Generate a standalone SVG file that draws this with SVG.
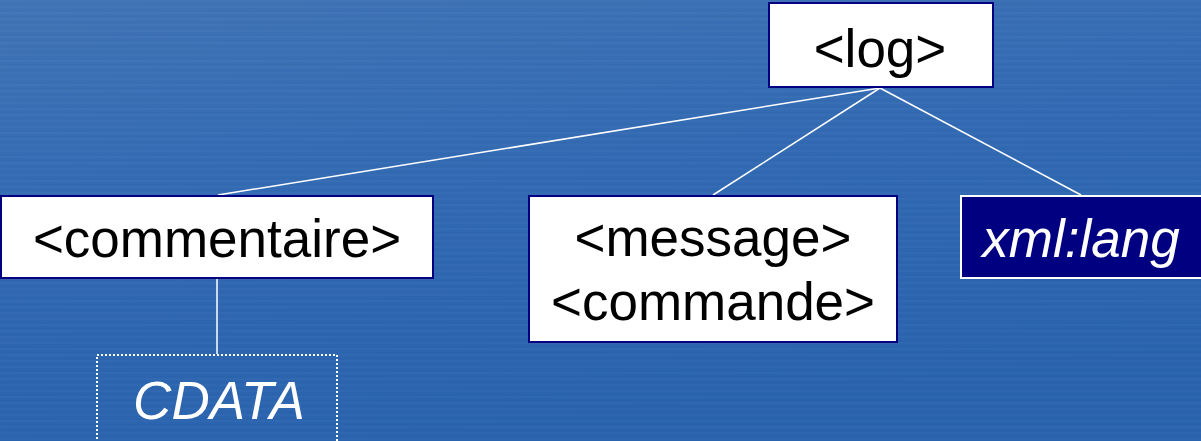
<svg xmlns="http://www.w3.org/2000/svg" width="1201" height="441" viewBox="0 0 1201 441">
<defs>
<linearGradient id="bg" x1="0" y1="0" x2="0.3" y2="1">
<stop offset="0" stop-color="#3f74b6"/>
<stop offset="0.5" stop-color="#3169b2"/>
<stop offset="1" stop-color="#2a63ae"/>
</linearGradient>
<pattern id="streaks" width="1201" height="6" patternUnits="userSpaceOnUse">
<rect x="0" y="0" width="1201" height="2" fill="#ffffff" opacity="0.02"/>
<rect x="0" y="4" width="1201" height="1" fill="#000000" opacity="0.02"/>
</pattern>
<style>
.box{fill:#ffffff;stroke:#000080;stroke-width:2}
.dark{fill:#000080;stroke:#ffffff;stroke-width:2}
.dot{fill:none;stroke:#ffffff;stroke-width:2;stroke-dasharray:2 2}
.t{font-family:"Liberation Sans",Arial,sans-serif;font-size:53px;fill:#000000;text-anchor:middle}
.ti{font-family:"Liberation Sans",Arial,sans-serif;font-size:53px;fill:#ffffff;font-style:italic;text-anchor:middle}
.c{stroke:#ffffff;stroke-width:1.5;fill:none}
</style>
</defs>
<rect width="1201" height="441" fill="url(#bg)"/>
<rect width="1201" height="441" fill="url(#streaks)"/>
<g id="connectors">
<line class="c" x1="880" y1="88" x2="218" y2="195"/>
<line class="c" x1="880" y1="88" x2="713" y2="195"/>
<line class="c" x1="880" y1="88" x2="1081" y2="195"/>
<line class="c" x1="217" y1="278" x2="217" y2="354"/>
</g>
<g id="log">
<rect class="box" x="769" y="3" width="224" height="84"/>
<text class="t" x="880" y="67">&lt;log&gt;</text>
</g>
<g id="commentaire">
<rect class="box" x="1" y="196" width="432" height="82"/>
<text class="t" x="217" y="257">&lt;commentaire&gt;</text>
</g>
<g id="message">
<rect class="box" x="529" y="196" width="368" height="146"/>
<text class="t" x="713" y="256">&lt;message&gt;</text>
<text class="t" x="713" y="320">&lt;commande&gt;</text>
</g>
<g id="xmllang">
<rect class="dark" x="961" y="196" width="245" height="82"/>
<text class="ti" x="1081" y="257">xml:lang</text>
</g>
<g id="cdata">
<rect class="dot" x="97" y="355" width="240" height="90"/>
<text class="ti" x="219" y="419">CDATA</text>
</g>
</svg>
